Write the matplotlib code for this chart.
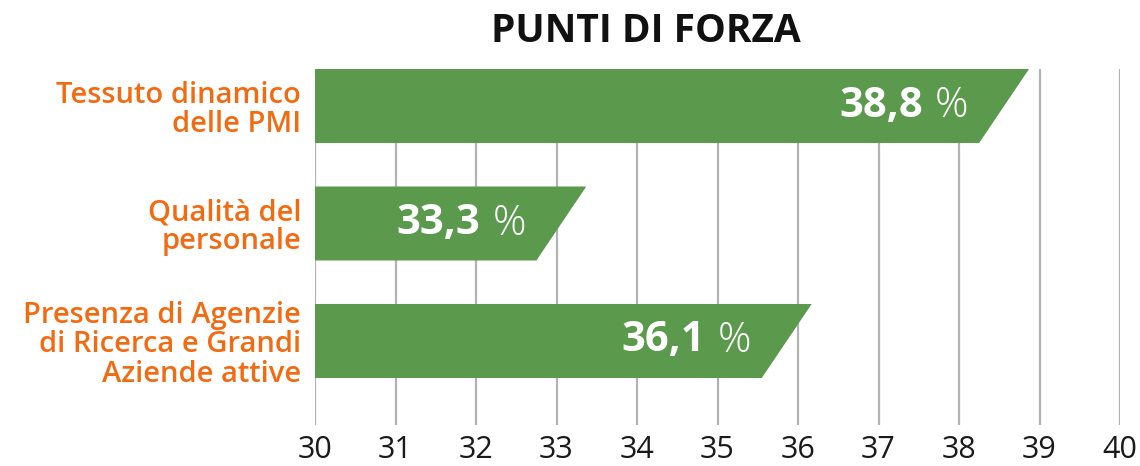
import matplotlib
matplotlib.use("Agg")
import matplotlib.pyplot as plt
from matplotlib.patches import Polygon

plt.rcParams['font.family'] = ['Open Sans', 'DejaVu Sans']

categories = ["Tessuto dinamico\ndelle PMI",
              "Qualità del\npersonale",
              "Presenza di Agenzie\ndi Ricerca e Grandi\nAziende attive"]
values = [38.8, 33.3, 36.1]
value_labels = ["38,8", "33,3", "36,1"]
x_ticks = list(range(30, 41))

green = "#5b9a4c"
orange = "#f26b12"

fig = plt.figure(figsize=(11.4, 4.66), dpi=100)
ax = fig.add_axes([315 / 1140, 1 - 425 / 466, 805 / 1140, 356 / 466])

ax.set_xlim(30, 40)
ax.set_ylim(2.715, -0.315)

bar_h = 0.63
for i, v in enumerate(values):
    top, bot = i - bar_h / 2, i + bar_h / 2
    # slanted right end: top edge a bit past the value, bottom edge short of it
    poly = Polygon([(30, top), (v + 0.07, top), (v - 0.55, bot), (30, bot)],
                   closed=True, facecolor=green, edgecolor="none", zorder=3)
    ax.add_patch(poly)
    ax.text(v - 0.68, i, "%", color="white", fontsize=30, fontweight="light",
            ha="right", va="center", zorder=4)
    ax.annotate(value_labels[i], xy=(v - 0.68, i), xycoords="data",
                xytext=(-33, 0), textcoords="offset points", color="white",
                fontsize=30, fontweight="bold", ha="right", va="center",
                zorder=4)

for x in x_ticks:
    ax.axvline(x, color="#b3b3b3", linewidth=1.6, zorder=1)

ax.set_xticks(x_ticks)
ax.set_xticklabels([str(t) for t in x_ticks], fontsize=22, color="#1a1a1a")
ax.tick_params(axis="x", length=0, pad=7)

ax.set_yticks(range(len(categories)))
ax.set_yticklabels(categories, fontsize=21, color=orange, fontweight="semibold",
                   linespacing=1.02)
ax.tick_params(axis="y", length=0, pad=10)

for s in ax.spines.values():
    s.set_visible(False)

fig.text(646 / 1140, 1 - 31 / 466, "PUNTI DI FORZA", fontsize=28,
         fontweight="bold", color="#111111", ha="center", va="center")

fig.savefig("out.png", dpi=100)
